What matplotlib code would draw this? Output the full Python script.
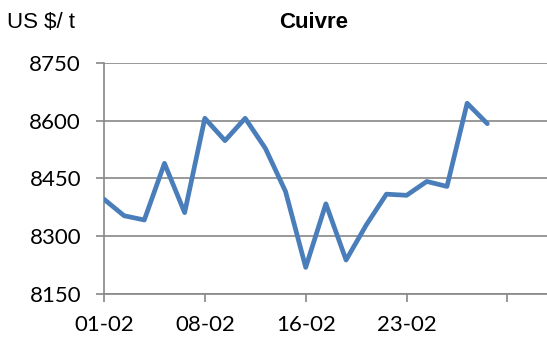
import matplotlib
matplotlib.use("Agg")
import matplotlib.pyplot as plt

# cours du cuivre, un point par jour de bourse
prix = [8396, 8353, 8342, 8489, 8361, 8606, 8548, 8606, 8528, 8416,
        8219, 8384, 8238, 8329, 8409, 8406, 8442, 8429, 8645, 8592]
jours = list(range(len(prix)))
tick_pos = [0, 5, 10, 15, 20]
tick_labels = ["01-02", "08-02", "16-02", "23-02", ""]
y_ticks = [8150, 8300, 8450, 8600, 8750]

fig = plt.figure(figsize=(5.47, 3.45), dpi=100)
ax = fig.add_axes([0.190, 0.148, 0.83, 0.670])

grey = "#888888"
ax.plot(jours, prix, color="#4a7ebb", linewidth=3.4,
        solid_joinstyle="round", solid_capstyle="round", zorder=3)

ax.set_xlim(0, 22.5)
ax.set_ylim(8150, 8750)
ax.set_yticks(y_ticks)
ax.set_xticks(tick_pos)
ax.set_xticklabels(tick_labels)
ax.yaxis.grid(True, color=grey, linewidth=1.2)
ax.set_axisbelow(True)

for s in ["top", "right"]:
    ax.spines[s].set_visible(False)
for s in ["left", "bottom"]:
    ax.spines[s].set_color(grey)
    ax.spines[s].set_linewidth(1.2)

ax.tick_params(axis="both", direction="out", length=5.5, width=1.2,
               color=grey, labelsize=16, labelcolor="black")
ax.tick_params(axis="y", pad=11)
ax.tick_params(axis="x", pad=10)
for lab in ax.get_xticklabels() + ax.get_yticklabels():
    lab.set_family("Lato")

fig.text(0.013, 0.918, "US $/ t", fontsize=16, family="Liberation Sans")
fig.text(0.574, 0.918, "Cuivre", fontsize=16, fontweight="bold",
         family="Liberation Sans", ha="center")

fig.savefig("out.png", dpi=100)
